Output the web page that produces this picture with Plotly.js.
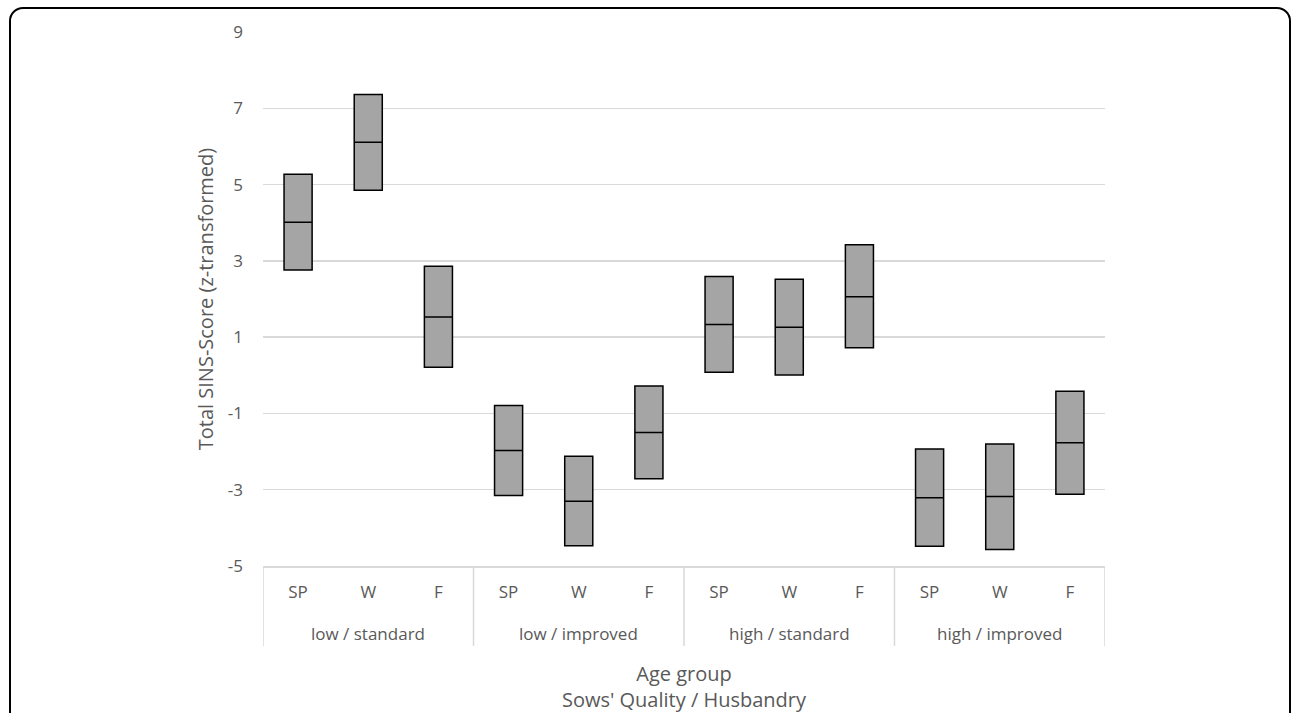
<!DOCTYPE html>
<html>
<head>
<meta charset="utf-8">
<script src="https://cdn.plot.ly/plotly-3.0.1.min.js"></script>
<style>
  html, body { margin: 0; padding: 0; background: #ffffff; overflow: hidden; }
  #frame { position: absolute; left: 9px; top: 7px; width: 1282px; height: 760px;
           border: 2px solid #000; border-radius: 14px; box-sizing: border-box; pointer-events: none; }
  #chart { position: absolute; left: 0; top: 0; width: 1295px; height: 713px; }
</style>
</head>
<body>
<div id="chart"></div>
<div id="frame"></div>
<script>
const groups = ["low / standard", "low / improved", "high / standard", "high / improved"];
const ageGroups = ["SP", "W", "F"];
const yTickVals = [-5, -3, -1, 1, 3, 5, 7, 9];
const yTickText = ["-5", "-3", "-1", "1", "3", "5", "7", "9"];

// lower bound, centre, upper bound per age group within each group (in order above)
const lowerVals  = [2.76, 4.85, 0.21,  -3.15, -4.47, -2.71,  0.08, 0.01, 0.72,  -4.48, -4.57, -3.12];
const centreVals = [4.01, 6.11, 1.53,  -1.97, -3.30, -1.50,  1.33, 1.26, 2.06,  -3.21, -3.18, -1.77];
const upperVals  = [5.27, 7.36, 2.86,  -0.79, -2.12, -0.28,  2.59, 2.52, 3.42,  -1.93, -1.80, -0.42];

const nSub = ageGroups.length;
const xPos = [], tickText = [];
groups.forEach((g, gi) => ageGroups.forEach((a, ai) => { xPos.push(gi * nSub + ai); tickText.push(a); }));

const trace = {
  type: "box",
  x: xPos,
  q1: lowerVals,
  median: centreVals,
  q3: upperVals,
  lowerfence: lowerVals,
  upperfence: upperVals,
  width: 0.4,
  whiskerwidth: 0,
  fillcolor: "#a5a5a5",
  line: { color: "#000000", width: 1.5 },
  hoverinfo: "skip",
  showlegend: false
};

// group dividers and group labels
const divY = -0.1498;
const shapes = [];
for (let k = 0; k <= groups.length; k++) {
  shapes.push({ type: "line", xref: "x", yref: "paper", x0: k * nSub - 0.5, x1: k * nSub - 0.5,
                y0: 0, y1: divY, line: { color: "#d9d9d9", width: 1.5 } });
}
const annotations = groups.map((g, gi) => ({
  text: g, xref: "x", yref: "paper", x: gi * nSub + (nSub - 1) / 2, y: -0.1255,
  yanchor: "middle", xanchor: "center", showarrow: false,
  font: { size: 17, color: "#595959" }
}));

const fontFam = "'Open Sans', sans-serif";
const layout = {
  width: 1295, height: 713,
  margin: { l: 263, r: 190, t: 32, b: 147 },
  paper_bgcolor: "rgba(0,0,0,0)",
  plot_bgcolor: "#ffffff",
  font: { family: fontFam, color: "#595959", size: 17 },
  showlegend: false,
  shapes: shapes,
  annotations: annotations,
  xaxis: {
    range: [-0.5, xPos.length - 0.5],
    tickmode: "array", tickvals: xPos, ticktext: tickText,
    showgrid: false, zeroline: false,
    showline: true, linecolor: "#d9d9d9", linewidth: 1.5,
    ticks: "", ticklabelstandoff: 10,
    tickfont: { size: 17, color: "#595959" },
    title: { text: "Age group<br>Sows' Quality / Husbandry", font: { size: 20, color: "#595959" }, standoff: 66 }
  },
  yaxis: {
    range: [-5, 9],
    tickmode: "array", tickvals: yTickVals, ticktext: yTickText,
    showgrid: true, gridcolor: "#d9d9d9", gridwidth: 1.5,
    zeroline: false, showline: false, ticks: "",
    ticklabelstandoff: 19,
    tickfont: { size: 17, color: "#595959" },
    title: { text: "Total SINS-Score (z-transformed)", font: { size: 20, color: "#595959" }, standoff: 8 }
  }
};

Plotly.newPlot("chart", [trace], layout, { staticPlot: true, displayModeBar: false });
</script>
</body>
</html>
